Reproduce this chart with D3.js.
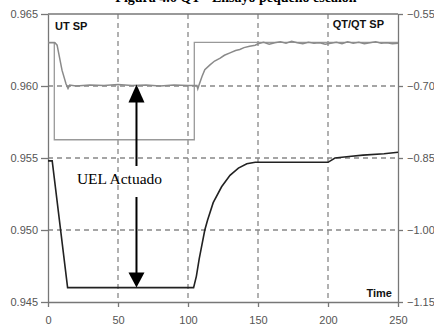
<!DOCTYPE html>
<html>
<head>
<meta charset="utf-8">
<script src="https://cdn.jsdelivr.net/npm/d3@7"></script>
<style>
  body { margin: 0; background: #fff; }
  svg { display: block; }
  .tick text { font-family: "Liberation Sans", Arial, sans-serif; font-size: 11px; fill: #555; }
</style>
</head>
<body>
<svg id="chart" width="434" height="327"></svg>
<script>
// time axis and tick labels
const xTicks = [0, 50, 100, 150, 200, 250]
const leftTicks = [0.945, 0.950, 0.955, 0.960, 0.965]
const rightTicks = [-1.15, -1.00, -0.85, -0.70, -0.55]

// UT (black, left axis)
const utTime = [0, 3, 14, 104, 106, 108, 112, 114, 118, 124, 130, 136, 142, 148, 200, 205, 215, 225, 240, 250]
const utValue = [0.9548, 0.9548, 0.9460, 0.9460, 0.9468, 0.9480, 0.9500, 0.9507, 0.9519, 0.9530, 0.9538, 0.9543, 0.9546, 0.9547, 0.9547, 0.9550, 0.9551, 0.9552, 0.9553, 0.9554]

// QT measured (gray, right axis)
const qtTime = [0, 5, 6.5, 10, 12.9, 14.3, 15.5, 20, 30, 40, 50, 60, 70, 80, 90, 100, 105, 106.4, 107, 108, 110, 112, 115.7, 119, 123, 126, 130, 134, 137, 140, 144, 148,
  150, 154, 158, 162, 166, 170, 174, 178, 182, 186, 190, 194, 198, 202, 206, 210, 214, 218, 222, 226, 230, 234, 238, 242, 246, 250]
const qtValue = [-0.610, -0.610, -0.615, -0.667, -0.696, -0.705, -0.698, -0.700, -0.698, -0.699, -0.697, -0.699, -0.698, -0.700, -0.698, -0.699, -0.699, -0.699, -0.706, -0.697, -0.680, -0.666, -0.656, -0.648, -0.642, -0.636, -0.631, -0.626, -0.624, -0.620, -0.617, -0.615,
  -0.612, -0.609, -0.613, -0.610, -0.608, -0.611, -0.607, -0.610, -0.612, -0.609, -0.611, -0.610, -0.613, -0.611, -0.609, -0.612, -0.608, -0.611, -0.609, -0.612, -0.610, -0.608, -0.611, -0.610, -0.612, -0.611]

// QT SP step (gray, right axis)
const spTime = [0, 4.5, 4.5, 104.5, 104.5, 250]
const spValue = [-0.609, -0.609, -0.812, -0.812, -0.609, -0.609]

const svg = d3.select('#chart')
const margin = { top: 14, right: 36, bottom: 25, left: 48 }
const W = 434 - margin.left - margin.right
const H = 327 - margin.top - margin.bottom

const x = d3.scaleLinear().domain([0, 250]).range([0, W])
const yL = d3.scaleLinear().domain([0.945, 0.965]).range([H, 0])
const yR = d3.scaleLinear().domain([-1.15, -0.55]).range([H, 0])

const g = svg.append('g').attr('transform', `translate(${margin.left},${margin.top})`)

// title, cut off by the top edge as in the source
svg.append('text')
  .attr('x', 236).attr('y', 1.5)
  .attr('text-anchor', 'middle')
  .style('font-family', '"Liberation Serif", "Times New Roman", serif')
  .style('font-weight', 'bold')
  .style('font-size', '14px')
  .text('Figura 4.6 QT - Ensayo pequeño escalón')

// grid
const dash = '5,4'
g.append('g').selectAll('line')
  .data(xTicks.slice(1, -1))
  .join('line')
  .attr('x1', d => x(d)).attr('x2', d => x(d))
  .attr('y1', 0).attr('y2', H)
  .attr('stroke', '#888').attr('stroke-width', 1.3).attr('stroke-dasharray', dash)
g.append('g').selectAll('line')
  .data(leftTicks.slice(1, -1))
  .join('line')
  .attr('x1', 0).attr('x2', W)
  .attr('y1', d => yL(d)).attr('y2', d => yL(d))
  .attr('stroke', '#888').attr('stroke-width', 1.3).attr('stroke-dasharray', dash)

// axes
const styleAxis = sel => {
  sel.select('.domain').attr('stroke', '#777').attr('stroke-width', 1.3)
  sel.selectAll('.tick line').attr('stroke', '#777').attr('stroke-width', 1.3)
}
g.append('g')
  .attr('transform', `translate(0,${H})`)
  .call(d3.axisBottom(x).tickValues(xTicks).tickSize(5).tickSizeOuter(0).tickPadding(9))
  .call(styleAxis)
g.append('g')
  .call(d3.axisLeft(yL).tickValues(leftTicks).tickFormat(d3.format('.3f')).tickSize(7).tickSizeOuter(0).tickPadding(3))
  .call(styleAxis)
g.append('g')
  .attr('transform', `translate(${W},0)`)
  .call(d3.axisRight(yR).tickValues(rightTicks).tickFormat(d3.format('.2f')).tickSize(5).tickSizeOuter(0).tickPadding(4))
  .call(styleAxis)
g.append('line')
  .attr('x1', 0).attr('x2', W).attr('y1', 0).attr('y2', 0)
  .attr('stroke', '#777').attr('stroke-width', 1.3)

// series
const lineR = d3.line().x(d => x(d[0])).y(d => yR(d[1]))
const lineL = d3.line().x(d => x(d[0])).y(d => yL(d[1]))

g.append('path')
  .datum(d3.zip(spTime, spValue))
  .attr('d', lineR)
  .attr('fill', 'none').attr('stroke', '#999').attr('stroke-width', 1.3)
g.append('path')
  .datum(d3.zip(qtTime, qtValue))
  .attr('d', lineR)
  .attr('fill', 'none').attr('stroke', '#8a8a8a').attr('stroke-width', 1.5)
g.append('path')
  .datum(d3.zip(utTime, utValue))
  .attr('d', lineL)
  .attr('fill', 'none').attr('stroke', '#222').attr('stroke-width', 1.6)

// labels
const bold = sel => sel
  .style('font-family', '"Liberation Sans", Arial, sans-serif')
  .style('font-weight', 'bold').style('font-size', '11px').attr('fill', '#111')
g.append('text').attr('x', 7).attr('y', 16).text('UT SP').call(bold)
g.append('text').attr('x', W - 14).attr('y', 14).attr('text-anchor', 'end').text('QT/QT SP').call(bold)
g.append('text').attr('x', W - 6).attr('y', H - 5).attr('text-anchor', 'end').text('Time').call(bold)

// UEL annotation with double arrow
const ax = x(63.2)
const yTop = yL(0.9601)
const yBot = yL(0.9460)
const textY = 184 - margin.top
g.append('line').attr('x1', ax).attr('x2', ax).attr('y1', yTop + 16).attr('y2', textY - 18)
  .attr('stroke', '#000').attr('stroke-width', 2)
g.append('line').attr('x1', ax).attr('x2', ax).attr('y1', textY + 13).attr('y2', yBot - 14)
  .attr('stroke', '#000').attr('stroke-width', 2)
g.append('path')
  .attr('d', `M${ax},${yTop} L${ax - 8},${yTop + 18} L${ax + 8},${yTop + 18} Z`)
  .attr('fill', '#000')
g.append('path')
  .attr('d', `M${ax},${yBot} L${ax - 8},${yBot - 15} L${ax + 8},${yBot - 15} Z`)
  .attr('fill', '#000')
g.append('text')
  .attr('x', ax - 17).attr('y', textY)
  .attr('text-anchor', 'middle')
  .style('font-family', '"Liberation Serif", "Times New Roman", serif')
  .style('font-size', '15.5px')
  .text('UEL Actuado')
</script>
</body>
</html>
